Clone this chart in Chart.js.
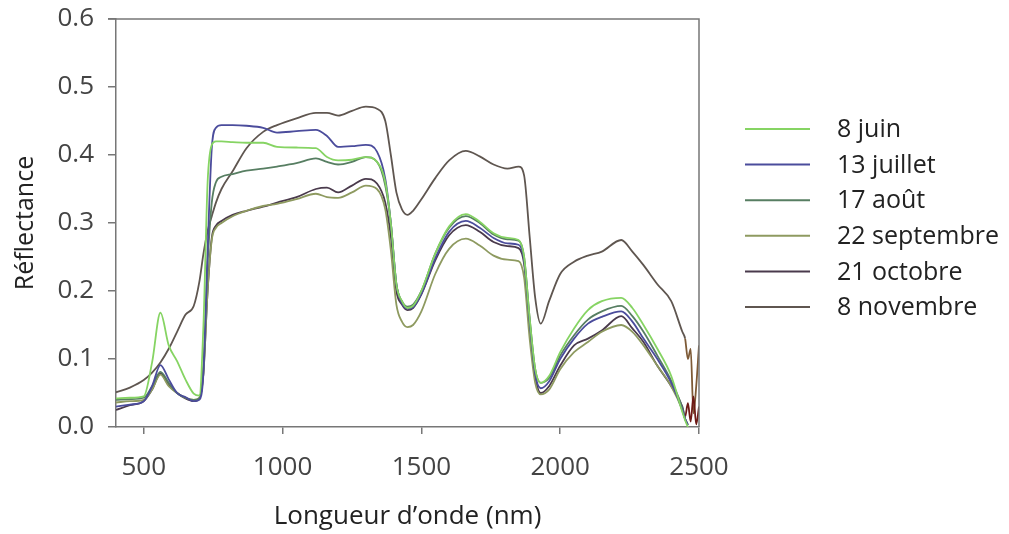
<!DOCTYPE html>
<html lang="fr">
<head>
<meta charset="utf-8">
<title>Réflectance</title>
<script src="https://cdn.jsdelivr.net/npm/chart.js@4"></script>
<style>
  html, body { margin: 0; padding: 0; background: #fff; }
  #wrap { width: 1009px; height: 534px; position: relative; }
</style>
</head>
<body>
<div id="wrap"><canvas id="spectre"></canvas></div>
<script>
// longueurs d'onde (nm), communes a toutes les courbes
const longueurs = [400, 450, 500, 530, 560, 590, 620, 650, 680, 700,
  715, 730, 745, 760, 780, 820, 870, 930, 980, 1050,
  1120, 1160, 1200, 1250, 1300, 1340, 1370, 1390, 1410, 1430,
  1450, 1470, 1500, 1550, 1600, 1660, 1710, 1760, 1810, 1850,
  1870, 1890, 1910, 1930, 1960, 2000, 2050, 2100, 2150, 2220,
  2260, 2300, 2350, 2400, 2440, 2450, 2460, 2470, 2480, 2490, 2500];

const juin8 = [0.042, 0.043, 0.045, 0.095, 0.168, 0.120, 0.097, 0.070, 0.049, 0.046,
  0.150, 0.360, 0.415, 0.420, 0.420, 0.419, 0.418, 0.418, 0.412, 0.411,
  0.410, 0.397, 0.392, 0.393, 0.397, 0.390, 0.360, 0.300, 0.210, 0.185,
  0.175, 0.178, 0.200, 0.255, 0.295, 0.313, 0.302, 0.285, 0.278, 0.275,
  0.250, 0.160, 0.085, 0.065, 0.075, 0.110, 0.145, 0.172, 0.185, 0.190,
  0.175, 0.150, 0.115, 0.075, 0.022, 0.010, 0.000, null, null, null, null];

const juillet13 = [0.030, 0.033, 0.038, 0.060, 0.091, 0.070, 0.050, 0.044, 0.038, 0.040,
  0.080, 0.260, 0.410, 0.440, 0.444, 0.444, 0.443, 0.440, 0.433, 0.435,
  0.437, 0.428, 0.412, 0.413, 0.415, 0.405, 0.365, 0.300, 0.210, 0.182,
  0.174, 0.176, 0.196, 0.248, 0.287, 0.303, 0.293, 0.278, 0.270, 0.268,
  0.245, 0.155, 0.078, 0.057, 0.067, 0.100, 0.130, 0.152, 0.162, 0.170,
  0.155, 0.130, 0.100, 0.065, 0.025, 0.012, 0.003, null, null, null, null];

const aout17 = [0.040, 0.041, 0.043, 0.060, 0.081, 0.065, 0.050, 0.043, 0.040, 0.042,
  0.090, 0.240, 0.330, 0.360, 0.368, 0.372, 0.377, 0.380, 0.383, 0.388,
  0.395, 0.390, 0.386, 0.390, 0.397, 0.390, 0.355, 0.300, 0.210, 0.185,
  0.177, 0.180, 0.200, 0.255, 0.293, 0.310, 0.300, 0.283, 0.276, 0.274,
  0.250, 0.160, 0.085, 0.065, 0.072, 0.105, 0.135, 0.158, 0.170, 0.178,
  0.163, 0.140, 0.105, 0.068, 0.028, 0.012, 0.003, null, null, null, null];

const septembre22 = [0.036, 0.038, 0.040, 0.055, 0.077, 0.060, 0.050, 0.043, 0.040, 0.043,
  0.080, 0.200, 0.275, 0.293, 0.300, 0.310, 0.318, 0.325, 0.328, 0.335,
  0.343, 0.338, 0.337, 0.345, 0.355, 0.350, 0.320, 0.260, 0.180, 0.155,
  0.147, 0.150, 0.170, 0.225, 0.262, 0.277, 0.267, 0.252, 0.246, 0.244,
  0.220, 0.130, 0.065, 0.048, 0.055, 0.085, 0.110, 0.125, 0.140, 0.150,
  0.140, 0.120, 0.090, 0.060, 0.025, 0.012, 0.003, null, null, null, null];

const octobre21 = [0.025, 0.032, 0.038, 0.055, 0.079, 0.062, 0.050, 0.042, 0.038, 0.042,
  0.080, 0.200, 0.278, 0.296, 0.303, 0.312, 0.318, 0.324, 0.330, 0.338,
  0.350, 0.352, 0.345, 0.355, 0.365, 0.358, 0.330, 0.280, 0.200, 0.180,
  0.172, 0.175, 0.195, 0.245, 0.282, 0.297, 0.287, 0.272, 0.266, 0.263,
  0.240, 0.150, 0.075, 0.050, 0.060, 0.090, 0.120, 0.130, 0.142, 0.163,
  0.145, 0.125, 0.090, 0.060, 0.030, 0.015, 0.035, 0.008, 0.045, 0.004, 0.030];

const novembre8 = [0.051, 0.058, 0.069, 0.080, 0.095, 0.115, 0.140, 0.165, 0.178, 0.213,
  0.255, 0.288, 0.310, 0.330, 0.350, 0.376, 0.410, 0.434, 0.444, 0.454,
  0.462, 0.462, 0.458, 0.465, 0.471, 0.468, 0.450, 0.400, 0.345, 0.320,
  0.312, 0.318, 0.335, 0.366, 0.392, 0.406, 0.398, 0.386, 0.380, 0.383,
  0.370, 0.280, 0.190, 0.152, 0.185, 0.225, 0.243, 0.252, 0.258, 0.275,
  0.258, 0.238, 0.210, 0.185, 0.140, 0.130, 0.100, 0.115, 0.020, 0.060, 0.120];

const dates = ['8 juin', '13 juillet', '17 août', '22 septembre', '21 octobre', '8 novembre'];
const series = [juin8, juillet13, aout17, septembre22, octobre21, novembre8];
const couleurs = ['#86d463', '#4b4c9c', '#577e62', '#8e9a60', '#4a3a4c', '#5f5650'];
const couleursFin = [null, null, null, null, '#6e1a16', '#7d5a36'];

const yTicks = [0, 0.1, 0.2, 0.3, 0.4, 0.5, 0.6];
const xTicks = [500, 1000, 1500, 2000, 2500];

Chart.defaults.font.family = '"Open Sans", sans-serif';

const cadreEtLegende = {
    id: 'cadreEtLegende',
    afterDatasetsDraw(chart) {
        const { ctx, chartArea: a } = chart;
        ctx.save();
        ctx.strokeStyle = '#777';
        ctx.lineWidth = 1.5;
        ctx.beginPath();
        ctx.moveTo(a.left - 8, a.top);
        ctx.lineTo(a.right, a.top);
        ctx.lineTo(a.right, a.bottom);
        ctx.stroke();

        ctx.font = '25px "Open Sans"';
        ctx.textBaseline = 'middle';
        chart.data.datasets.forEach((ds, i) => {
            const y = 129 + i * 35.6;
            ctx.strokeStyle = ds.borderColor;
            ctx.lineWidth = 2;
            ctx.beginPath();
            ctx.moveTo(745, y);
            ctx.lineTo(810, y);
            ctx.stroke();
            ctx.fillStyle = '#222';
            ctx.fillText(ds.label, 837, y + 1);
        });
        ctx.restore();
    }
};

new Chart(document.getElementById('spectre'), {
    type: 'line',
    data: {
        labels: longueurs,
        datasets: series.map((vals, i) => ({
            label: dates[i],
            data: vals.map((v, j) => ({ x: longueurs[j], y: v })),
            borderColor: couleurs[i],
            borderWidth: 1.8,
            pointRadius: 0,
            cubicInterpolationMode: 'monotone',
            spanGaps: false,
            segment: {
                borderColor: c => (couleursFin[i] && c.p0.parsed.x >= 2450) ? couleursFin[i] : undefined
            }
        }))
    },
    options: {
        responsive: true,
        maintainAspectRatio: false,
        animation: false,
        layout: { padding: { left: 0, top: 19, right: 310, bottom: 0 } },
        plugins: { legend: { display: false }, tooltip: { enabled: false } },
        scales: {
            x: {
                type: 'linear',
                min: 400,
                max: 2500,
                afterBuildTicks: s => { s.ticks = xTicks.map(v => ({ value: v })); },
                afterFit: s => { s.height = 107; s.paddingLeft = 0; s.paddingRight = 0; },
                grid: { drawOnChartArea: false, tickLength: 7, color: '#777', lineWidth: 1.5 },
                border: { color: '#777', width: 1.5 },
                ticks: { color: '#444', font: { size: 26 }, padding: 18, maxRotation: 0, autoSkip: false, callback: v => String(v) },
                title: { display: true, text: 'Longueur d’onde (nm)', color: '#222', font: { size: 26 }, padding: { top: 0, bottom: 2 } }
            },
            y: {
                min: 0,
                max: 0.6,
                afterBuildTicks: s => { s.ticks = yTicks.map(v => ({ value: v })); },
                afterFit: s => { s.width = 116; s.paddingTop = 0; s.paddingBottom = 0; },
                grid: { drawOnChartArea: false, tickLength: 8, color: '#777', lineWidth: 1.5 },
                border: { color: '#777', width: 1.5 },
                ticks: { color: '#444', font: { size: 26 }, padding: 14, callback: v => v.toFixed(1) },
                title: { display: true, text: 'Réflectance', color: '#222', font: { size: 25 }, padding: { top: 11, bottom: 0 } }
            }
        }
    },
    plugins: [cadreEtLegende]
});
</script>
</body>
</html>
